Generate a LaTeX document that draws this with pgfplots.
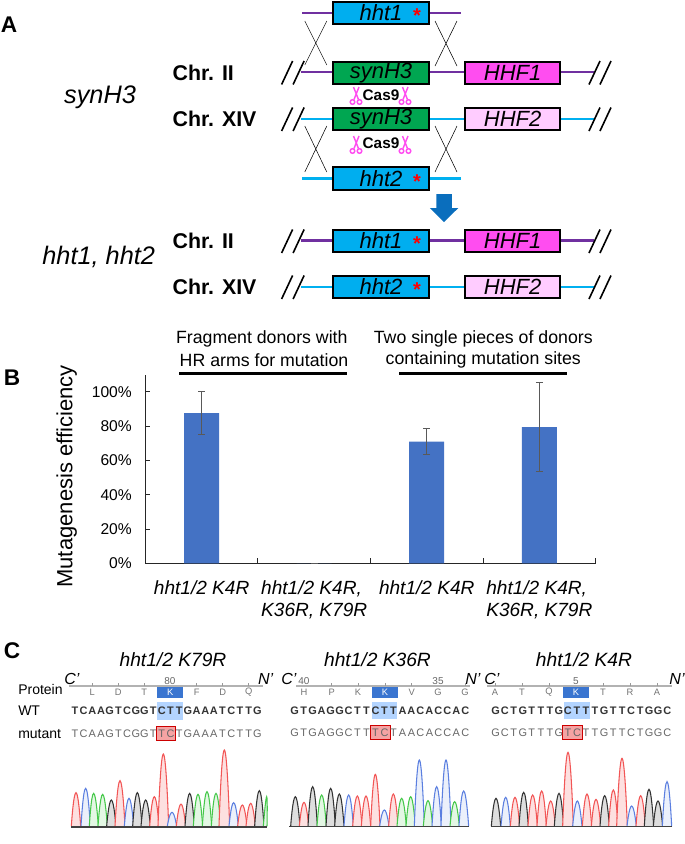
\documentclass[border=0pt]{standalone}
\usepackage{fontspec}
\setmainfont{Liberation Sans}
\usepackage{pgfplots}
\usepackage{pgfplotstable}
\pgfplotsset{compat=1.18}

\definecolor{hhtblue}{HTML}{00AEEF}
\definecolor{syngreen}{HTML}{00A651}
\definecolor{hhfa}{HTML}{FF4DF0}
\definecolor{hhfb}{HTML}{FFCCFF}
\definecolor{chrpurple}{HTML}{7030A0}
\definecolor{chrcyan}{HTML}{00B0F0}
\definecolor{barblue}{HTML}{4472C4}
\definecolor{kblue}{HTML}{3A75D0}
\definecolor{klight}{HTML}{B3D4FF}
\definecolor{mutred}{HTML}{F5A3A3}
\definecolor{arrowblue}{HTML}{0A6EBD}
\definecolor{tr}{HTML}{F25555}
\definecolor{tb}{HTML}{5B7FE0}
\definecolor{tg}{HTML}{45C84A}
\definecolor{tk}{HTML}{333333}

% panel B values, percent
\pgfplotstableread{
x y ep em
0 87.6 12.4 12.3
1 0 0 0
2 70.9 7.4 7.2
3 79.4 26.0 26.1
}\effdata

\newcommand\fs[1]{\fontsize{#1}{#1}\selectfont}
% chromatogram peak: style, left foot, centre, top, right foot
\newcommand\pk[5]{\addplot[#1] coordinates {(#2,559)(#3,#4)(#5,559)};}
\newcommand\seqrow[5]{\foreach \c [count=\i from 0] in {#5} {\node[#4] at ({#1+\i*#2},#3) {\c};}}

\tikzset{
  gene/.style={draw=black,line width=1.6pt,minimum width=71.5pt,minimum height=17pt,inner sep=0pt,font=\fs{16.5}\itshape},
  chr/.style={font=\fs{16}\bfseries,anchor=west,inner sep=0pt},
  dna/.style={font=\fs{8.2}\bfseries,text=black!80,inner sep=0pt},
  mut/.style={font=\fs{8.2},text=black!60,inner sep=0pt},
  aa/.style={font=\fs{7},text=black!55,inner sep=0pt},
  num/.style={font=\fs{7.5},text=black!60,inner sep=0pt},
  cn/.style={font=\fs{12}\itshape,inner sep=0pt},
  row/.style={font=\fs{10.5},anchor=west,inner sep=0pt}
}
\pgfplotsset{
  R/.style={draw=tr,fill=tr!18,line width=0.8pt,smooth,tension=1,forget plot},
  B/.style={draw=tb,fill=tb!12,line width=0.8pt,smooth,tension=1,forget plot},
  G/.style={draw=tg,fill=tg!15,line width=0.8pt,smooth,tension=1,forget plot},
  K/.style={draw=tk,fill=tk!16,line width=0.8pt,smooth,tension=1,forget plot},
  trace/.style={hide axis,scale only axis,y dir=reverse,clip=false,
    ymin=0,ymax=612,height=153pt}
}

\newcommand\slashes[3]{\draw[line width=1.2pt] (#1,#3+12) -- ++(11,-23.5) (#1+11.5,#3+12) -- ++(11,-23.5);
  \draw[line width=1.2pt] (#2,#3+12) -- ++(11,-23.5) (#2+11,#3+12) -- ++(11,-23.5);}
\newcommand\cross[3]{\draw[line width=0.4pt] (#1,#2) -- (#1+22,#3) (#1+22,#2) -- (#1,#3);}
\newcommand\scissors[2]{\draw[hhfa,line width=1.1pt] (#1-2.5,#2-10) -- (#1+2.5,#2+2.5) (#1+3,#2-10) -- (#1-2,#2+2.5);
  \draw[hhfa,line width=1.1pt] (#1-3.5,#2+5) circle[radius=2.3] (#1+3.5,#2+5) circle[radius=2.3];}

\begin{document}
\begin{tikzpicture}[x=0.75pt,y=-0.75pt]
\path[use as bounding box] (0,0) rectangle (685,844);

% ---- panel A
\node[font=\fs{17}\bfseries,inner sep=0pt] at (9,25) {A};
\node[font=\fs{19}\itshape,inner sep=0pt] at (100,97) {synH3};
\node[font=\fs{19}\itshape,inner sep=0pt] at (98.7,257) {hht1, hht2};
\node[chr] at (172.4,73) {Chr. II};
\node[chr] at (172.4,119) {Chr. XIV};
\node[chr] at (172.4,241) {Chr. II};
\node[chr] at (172.4,287) {Chr. XIV};

% chromosome lines
\draw[chrpurple,line width=2pt] (302,13) -- (460.5,13);
\draw[chrpurple,line width=1.8pt] (300.5,72) -- (594.3,72);
\draw[chrcyan,line width=1.8pt] (300.5,119) -- (594.3,119);
\draw[chrcyan,line width=2pt] (302,178.5) -- (460.5,178.5);
\draw[chrpurple,line width=1.8pt] (300.5,240.5) -- (594.3,240.5);
\draw[chrcyan,line width=1.8pt] (300.5,287) -- (594.3,287);

\cross{304.8}{21}{65}\cross{435}{21}{66}
\cross{304.8}{126}{172}\cross{435}{126}{172}
\slashes{281.6}{589}{72.5}\slashes{281.6}{589}{119}
\slashes{281.6}{589}{241}\slashes{281.6}{589}{287}

\foreach \y/\f/\t in {13/hhtblue/hht1,73/syngreen/synH3,119/syngreen/synH3,178.5/hhtblue/hht2,241/hhtblue/hht1,287/hhtblue/hht2}
  \node[gene,fill=\f] at (381,\y) {\t};
\foreach \y/\f/\t in {73/hhfa/HHF1,119/hhfb/HHF2,241/hhfa/HHF1,287/hhfb/HHF2}
  \node[gene,fill=\f] at (512.7,\y) {\t};
\foreach \y in {13,178.5,241,287}
  \node[text=red,font=\fs{15}\bfseries,inner sep=0pt] at (417,\y+3) {*};

\node[font=\fs{11.5}\bfseries,inner sep=0pt] at (381,95) {Cas9};
\node[font=\fs{11.5}\bfseries,inner sep=0pt] at (381,143.5) {Cas9};
\scissors{356}{97}\scissors{405}{97}
\scissors{356}{146}\scissors{405}{146}

\fill[arrowblue] (436.4,194) -- (451.8,194) -- (451.8,208) -- (458.3,208) -- (444,222) -- (429.8,208) -- (436.4,208) -- cycle;

% ---- panel B
\node[font=\fs{17}\bfseries,inner sep=0pt] at (12,378) {B};
\node[font=\fs{13.3},inner sep=0pt] at (261.8,339) {Fragment donors with};
\node[font=\fs{13.3},inner sep=0pt] at (264,360) {HR arms for mutation};
\node[font=\fs{13.3},inner sep=0pt] at (483.3,339) {Two single pieces of donors};
\node[font=\fs{13.3},inner sep=0pt] at (483.3,360) {containing mutation sites};
\draw[line width=2.2pt] (179,373.7) -- (347.4,373.7) (399,373.7) -- (567,373.7);
\node[font=\fs{16.5},rotate=90,inner sep=0pt] at (66.7,476.5) {Mutagenesis efficiency};

\begin{axis}[
  at={(109pt,-422.5pt)},anchor=south west,
  scale only axis,width=337.7pt,height=141.45pt,
  axis lines=left,
  axis line style={-,line width=0.8pt,black!85},
  xmin=-0.5,xmax=3.5,ymin=0,ymax=109.9,
  ytick={0,20,...,100},
  yticklabel={\pgfmathprintnumber{\tick}\%},
  /pgf/number format/assume math mode=true,
  y tick label style={font=\fs{11.7},inner sep=1pt,xshift=-9pt},
  tick style={draw=black!85,line width=0.75pt},
  tick align=inside,
  major tick length=3.75pt,
  xtick={0.5,1.5,2.5,3.5},
  xticklabels={},
  extra x ticks={0,1,2,3},
  extra x tick labels={{hht1/2 K4R},{hht1/2 K4R,\\K36R, K79R},{hht1/2 K4R},{hht1/2 K4R,\\K36R, K79R}},
  extra x tick style={major tick length=0pt,tick label style={font=\fontsize{14.3}{16.5}\selectfont\itshape,align=left,anchor=north,yshift=-9.5pt}},
  clip=false
]
\addplot[ybar,bar width=26.25pt,bar shift=0pt,fill=barblue,draw=none,
  error bars/.cd,y dir=both,y explicit,
  error bar style={black!65,line width=0.75pt},
  error mark options={rotate=90,mark size=2.5pt,black!65,line width=0.75pt}]
  table[x=x,y=y,y error plus=ep,y error minus=em] {\effdata};
\end{axis}

% ---- panel C
\node[font=\fs{17}\bfseries,inner sep=0pt] at (12,651) {C};
\node[font=\fs{14.4}\itshape,inner sep=0pt] at (173,660) {hht1/2 K79R};
\node[font=\fs{14.4}\itshape,inner sep=0pt] at (377.5,660) {hht1/2 K36R};
\node[font=\fs{14.4}\itshape,inner sep=0pt] at (584,660) {hht1/2 K4R};
\foreach \x/\t in {72/C',265.7/N',289/C',473/N',492/C',677/N'}
  \node[cn] at (\x,679) {\t};
\node[row] at (18,689) {Protein};
\node[row] at (18,711) {WT};
\node[row] at (18,734) {mutant};

% highlight boxes
\fill[kblue] (157,686) rectangle (183,698);
\fill[kblue] (371.7,686) rectangle (397.7,698);
\fill[kblue] (562.7,686) rectangle (589.3,698);
\fill[klight] (157,702) rectangle (183,720);
\fill[klight] (372,702) rectangle (397,719);
\fill[klight] (564,702) rectangle (590,719);
\filldraw[fill=mutred,draw=red!80!black,line width=0.7pt] (156.7,726) rectangle (175.7,740);
\filldraw[fill=mutred,draw=red!80!black,line width=0.7pt] (370.7,725.5) rectangle (390,739.5);
\filldraw[fill=mutred,draw=red!80!black,line width=0.7pt] (562.7,725.5) rectangle (582.3,739.5);

% rulers
\draw[black!30,line width=0.8pt] (69,686) -- (263,686) (296,686) -- (470,686) (487,686) -- (672,686);
\foreach \x in {92.3,118.3,144.3,196.7,222.7,248.7,331.7,358,385,411.7,465,495,522,549,603,630,657}
  \draw[black!40,line width=0.4pt] (\x,686) -- (\x,683);
\node[num] at (170,681) {80};
\node[num] at (304,681) {40};
\node[num] at (438,681) {35};
\node[num] at (576,681) {5};

\foreach \x/\t in {92.3/L,118.3/D,144.3/T,196.7/F,222.7/D,248.7/Q,304/H,331.7/P,358/K,411.7/V,438/G,465/G,495/A,522/T,549/Q,603/T,630/R,657/A}
  \node[aa] at (\x,692.5) {\t};
\foreach \x in {170.3,385,576}
  \node[aa,text=white] at (\x,692.5) {K};

\seqrow{75}{8.68}{711}{dna}{T,C,A,A,G,T,C,G,G,T,C,T,T,G,A,A,A,T,C,T,T,G}
\seqrow{75}{8.68}{733.5}{mut}{T,C,A,A,G,T,C,G,G,T,T,C,T,G,A,A,A,T,C,T,T,G}
\seqrow{294.7}{8.98}{711}{dna}{G,T,G,A,G,G,C,T,T,C,T,T,A,A,C,A,C,C,A,C}
\seqrow{294.7}{8.98}{733}{mut}{G,T,G,A,G,G,C,T,T,T,C,T,A,A,C,A,C,C,A,C}
\seqrow{495.7}{9.03}{711}{dna}{G,C,T,G,T,T,T,G,C,T,T,T,G,T,T,C,T,G,G,C}
\seqrow{495.7}{9.03}{733}{mut}{G,C,T,G,T,T,T,G,T,C,T,T,G,T,T,C,T,G,G,C}

% chromatogram, left panel
\begin{axis}[trace,at={(0pt,-633pt)},anchor=south west,width=258.75pt,xmin=0,xmax=1035]
\pk{R}{214}{228}{458}{242}\pk{B}{243}{257}{445}{271}\pk{G}{268}{281}{460}{295}\pk{G}{294}{308}{463}{322}
\pk{K}{320}{334}{480}{348}\pk{R}{345}{360}{422}{375}\pk{B}{373}{387}{475}{401}\pk{K}{398}{412}{458}{426}
\pk{K}{423}{437}{480}{451}\pk{R}{449}{463}{470}{477}\pk{R}{474}{490}{342}{506}\pk{B}{502}{516}{517}{530}
\pk{R}{529}{543}{492}{557}\pk{K}{555}{569}{460}{583}\pk{G}{580}{594}{463}{608}\pk{G}{607}{621}{455}{635}
\pk{G}{634}{648}{460}{662}\pk{R}{657}{673}{330}{689}\pk{B}{687}{701}{488}{715}\pk{R}{713}{727}{495}{741}
\pk{R}{738}{752}{490}{766}\pk{K}{764}{778}{452}{792}\pk{G}{790}{800}{470}{801}
\addplot[black!75,line width=0.8pt,forget plot] coordinates {(214,561)(800,561)};
\end{axis}

% chromatograms, middle and right panels
\begin{axis}[trace,at={(0pt,-633pt)},anchor=south west,width=513.75pt,xmin=-1020,xmax=1035]
\pk{K}{-148}{-134}{470}{-120}\pk{R}{-122}{-108}{487}{-94}\pk{K}{-96}{-82}{440}{-68}\pk{G}{-69}{-55}{465}{-41}
\pk{K}{-42}{-28}{445}{-14}\pk{K}{-16}{-2}{462}{12}\pk{B}{12}{26}{465}{40}\pk{R}{38}{52}{468}{66}
\pk{R}{64}{78}{468}{92}\pk{R}{92}{106}{403}{120}\pk{B}{119}{133}{510}{147}\pk{R}{146}{160}{462}{174}
\pk{G}{171}{185}{475}{199}\pk{G}{198}{212}{470}{226}\pk{B}{223}{238}{360}{253}\pk{G}{250}{264}{482}{278}
\pk{B}{276}{290}{440}{304}\pk{B}{303}{318}{360}{333}\pk{G}{330}{344}{485}{358}\pk{B}{357}{371}{453}{386}
\pk{K}{454}{468}{475}{482}\pk{B}{483}{497}{472}{511}\pk{R}{511}{525}{472}{539}\pk{K}{537}{551}{457}{565}
\pk{R}{564}{578}{465}{592}\pk{R}{591}{605}{453}{619}\pk{R}{618}{632}{483}{646}\pk{K}{643}{657}{460}{671}
\pk{R}{668}{684}{337}{700}\pk{B}{698}{712}{483}{726}\pk{R}{727}{741}{462}{755}\pk{R}{754}{768}{478}{782}
\pk{K}{780}{794}{467}{808}\pk{R}{806}{820}{450}{834}\pk{R}{830}{846}{355}{862}\pk{B}{861}{875}{498}{889}
\pk{R}{888}{902}{467}{916}\pk{K}{913}{927}{448}{941}\pk{K}{940}{954}{483}{968}\pk{B}{967}{981}{425}{995}
\addplot[black!75,line width=0.8pt,forget plot] coordinates {(-152,560)(388,560)};
\addplot[black!75,line width=0.8pt,forget plot] coordinates {(454,560)(995,560)};
\end{axis}
\end{tikzpicture}
\end{document}
